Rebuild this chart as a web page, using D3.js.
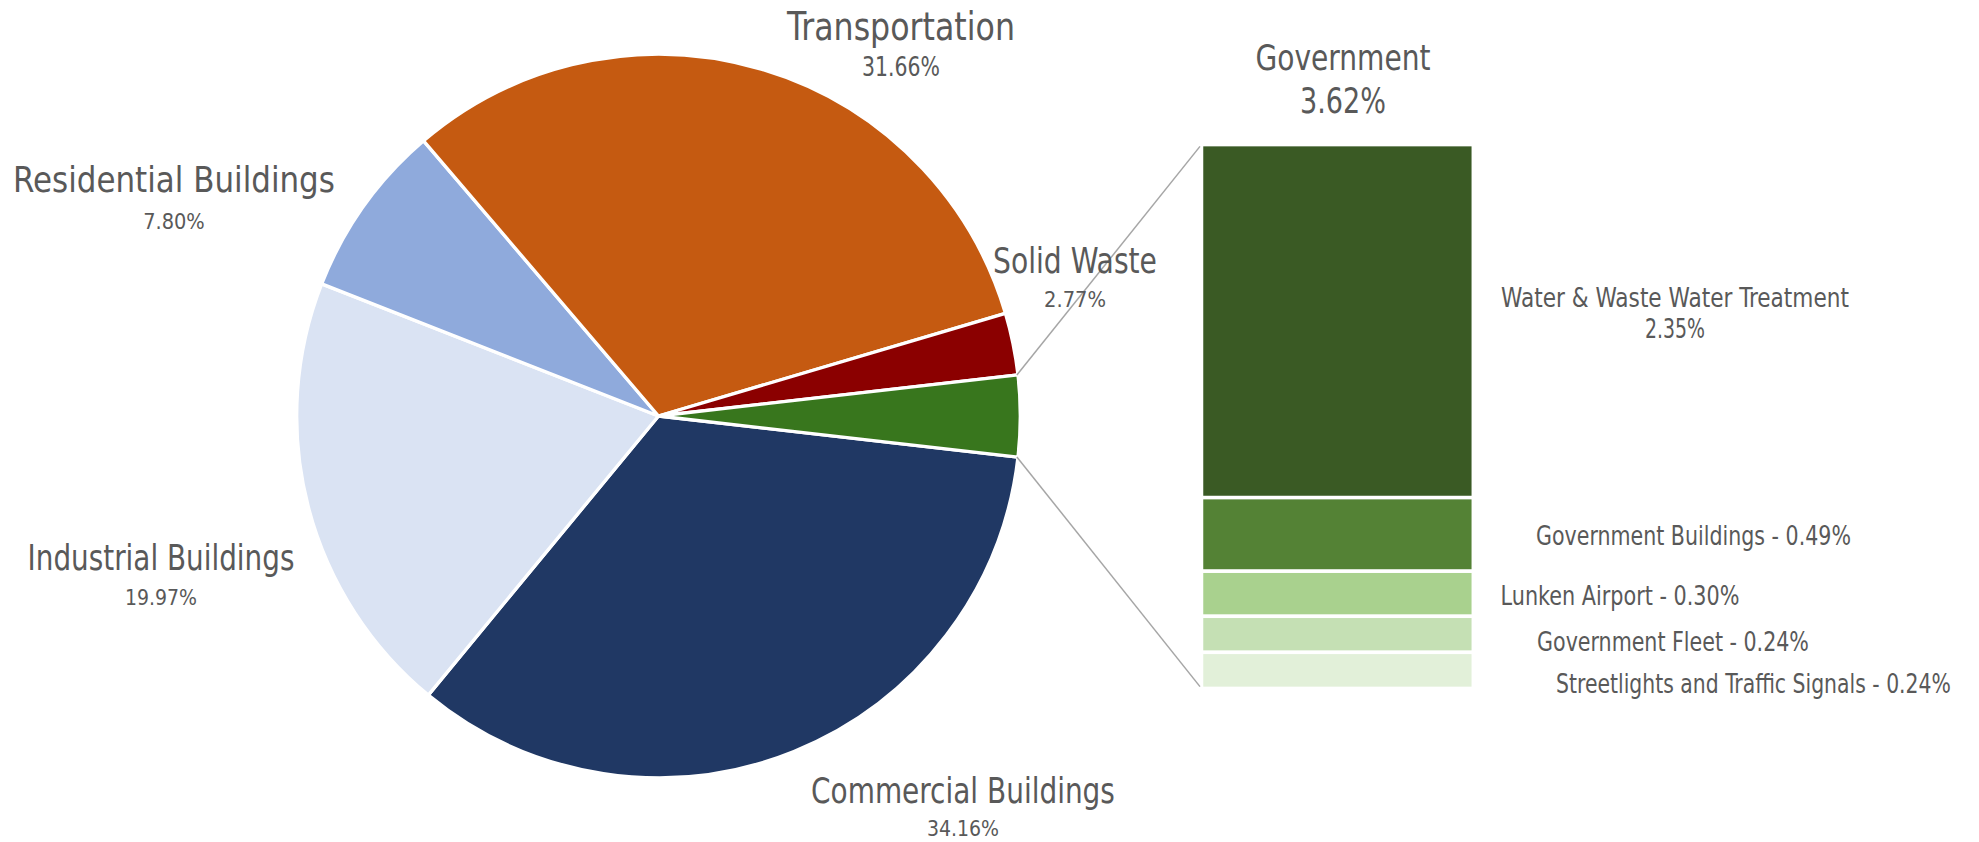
<!DOCTYPE html>
<html>
<head>
<meta charset="utf-8">
<script src="https://cdn.jsdelivr.net/npm/d3@7"></script>
<style>
  html, body { margin: 0; padding: 0; background: #fff; }
  svg { display: block; }
  text { font-family: "Liberation Sans Narrow", "Arial Narrow", "DejaVu Sans Condensed", "Liberation Sans", sans-serif; fill: #595959; }
</style>
</head>
<body>
<svg id="chart" width="1979" height="842"></svg>
<script>
// ---- data ----
const pieCategories = ["Commercial Buildings", "Industrial Buildings", "Residential Buildings", "Transportation", "Solid Waste", "Government"];
const pieValues = [34.16, 19.97, 7.80, 31.66, 2.77, 3.62];
const pieColors = ["#203864", "#DAE3F3", "#8FAADC", "#C55A11", "#8B0000", "#38761D"];

const barCategories = ["Water & Waste Water Treatment", "Government Buildings", "Lunken Airport", "Government Fleet", "Streetlights and Traffic Signals"];
const barValues = [2.35, 0.49, 0.30, 0.24, 0.24];
const barColors = ["#3A5A24", "#548235", "#A9D18E", "#C5E0B4", "#E2F0D9"];

// ---- layout ----
const cx = 658.5, cy = 416, R = 361.8;
const svg = d3.select("#chart");

const total = d3.sum(pieValues);
const govIdx = pieCategories.indexOf("Government");
const govAngle = pieValues[govIdx] / total * 2 * Math.PI;
const start = Math.PI / 2 + govAngle / 2;

const pie = d3.pie().sort(null).value(d => d).startAngle(start).endAngle(start + 2 * Math.PI);
const arcs = pie(pieValues);
const arc = d3.arc().innerRadius(0).outerRadius(R);

const gPie = svg.append("g").attr("transform", `translate(${cx},${cy})`);
gPie.selectAll("path").data(arcs).join("path")
  .attr("d", arc)
  .attr("fill", (d, i) => pieColors[i])
  .attr("stroke", "#fff")
  .attr("stroke-width", 3.3)
  .attr("stroke-linejoin", "round");

// ---- bar ----
const barX0 = 1201.5, barX1 = 1473.3, barTop = 144.6, barBot = 688.4;
const barTotal = d3.sum(barValues);
const y = d3.scaleLinear().domain([0, barTotal]).range([barTop, barBot]);
const cum = d3.cumsum(barValues);
svg.append("g").selectAll("rect").data(barValues).join("rect")
  .attr("x", barX0)
  .attr("width", barX1 - barX0)
  .attr("y", (d, i) => y(cum[i] - d))
  .attr("height", d => y(d) - y(0))
  .attr("fill", (d, i) => barColors[i])
  .attr("stroke", "#fff")
  .attr("stroke-width", 3.5);

// ---- connectors ----
const govArc = arcs[govIdx];
function onCircle(a) { return [cx + R * 0.997 * Math.sin(a), cy - R * 0.997 * Math.cos(a)]; }
const pTop = onCircle(govArc.startAngle);
const pBot = onCircle(govArc.endAngle);
svg.append("line").attr("x1", pTop[0]).attr("y1", pTop[1]).attr("x2", barX0 - 1.5).attr("y2", barTop + 1.8)
  .attr("stroke", "#A6A6A6").attr("stroke-width", 1.5);
svg.append("line").attr("x1", pBot[0]).attr("y1", pBot[1]).attr("x2", barX0 - 1.5).attr("y2", barBot - 1.8)
  .attr("stroke", "#A6A6A6").attr("stroke-width", 1.5);

// ---- labels ----
const fmt = v => v.toFixed(2) + "%";
const pieLabelPos = {
  "Commercial Buildings":  {x: 963,  y: 803, s: 35, w: 304, py: 836, ps: 22, pw: 72},
  "Industrial Buildings":  {x: 161,  y: 570, s: 35, w: 267, py: 605, ps: 22, pw: 72},
  "Residential Buildings": {x: 174,  y: 192, s: 35, w: 322, py: 229, ps: 22, pw: 61.6},
  "Transportation":        {x: 901,  y: 40,  s: 39, w: 228, py: 76,  ps: 26, pw: 78},
  "Solid Waste":           {x: 1075, y: 273, s: 35, w: 164, py: 307, ps: 22, pw: 62},
  "Government":            {x: 1343, y: 70,  s: 35, w: 175, py: 113, ps: 35, pw: 86}
};
// draw text centred at (x, y) and squeeze it horizontally to a target width (condensed face)
function addText(str, x, yy, size, width) {
  const t = svg.append("text")
    .attr("x", 0).attr("y", 0)
    .attr("text-anchor", "middle")
    .attr("font-size", size)
    .text(str);
  const natural = t.node().getComputedTextLength();
  const sx = natural > 0 ? width / natural : 1;
  t.attr("transform", `translate(${x},${yy}) scale(${sx},1)`);
}
pieCategories.forEach((c, i) => {
  const p = pieLabelPos[c];
  addText(c, p.x, p.y, p.s, p.w);
  addText(fmt(pieValues[i]), p.x, p.py, p.ps, p.pw);
});

const barLabelPos = [
  {x: 1675,   y: 307,   w: 348, py: 338, pw: 60, two: true},
  {x: 1693.5, y: 545,   w: 315},
  {x: 1620,   y: 605,   w: 239},
  {x: 1673,   y: 651,   w: 272},
  {x: 1753.5, y: 692.7, w: 395}
];
barCategories.forEach((c, i) => {
  const p = barLabelPos[i];
  if (p.two) {
    addText(c, p.x, p.y, 27, p.w);
    addText(fmt(barValues[i]), p.x, p.py, 27, p.pw);
  } else {
    addText(c + " - " + fmt(barValues[i]), p.x, p.y, 27, p.w);
  }
});
</script>
</body>
</html>
